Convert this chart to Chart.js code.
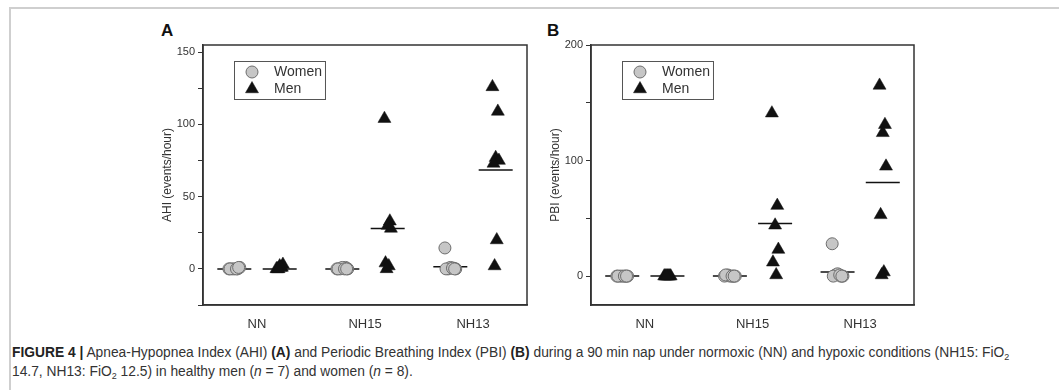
<!DOCTYPE html>
<html>
<head>
<meta charset="utf-8">
<script src="https://cdn.jsdelivr.net/npm/chart.js@4.4.1/dist/chart.umd.min.js"></script>
<style>
  html, body { margin: 0; padding: 0; background: #fff; }
  body { width: 1059px; height: 390px; position: relative; overflow: hidden; font-family: "Liberation Sans", Arial, sans-serif; }
  .frame { position: absolute; left: 9px; top: 7px; width: 1060px; height: 400px; border-top: 2px solid #cfcfcf; border-left: 2px solid #cfcfcf; }
  .panel { position: absolute; top: 20px; width: 400px; height: 320px; }
  .letter { position: absolute; font-weight: bold; font-size: 17px; color: #111; }
  .caption { position: absolute; left: 12px; top: 343px; width: 1045px; font-family: "Liberation Sans Narrow", "Arial Narrow", sans-serif; font-size: 13.8px; line-height: 19px; color: #333; white-space: nowrap; }
  .caption b { color: #222; }
  .caption sub { font-size: 9px; line-height: 0; vertical-align: -3px; }
</style>
</head>
<body>
<div class="frame"></div>
<div class="letter" style="left:161px; top:21px;">A</div>
<div class="letter" style="left:547px; top:21px;">B</div>
<div class="panel" style="left:150px;"><canvas id="chartA"></canvas></div>
<div class="panel" style="left:540px;"><canvas id="chartB"></canvas></div>
<div class="caption"><b>FIGURE 4 |</b> Apnea-Hypopnea Index (AHI) <b>(A)</b> and Periodic Breathing Index (PBI) <b>(B)</b> during a 90 min nap under normoxic (NN) and hypoxic conditions (NH15: FiO<sub>2</sub><br>14.7, NH13: FiO<sub>2</sub> 12.5) in healthy men (<i>n</i> = 7) and women (<i>n</i> = 8).</div>

<script>
// ---------- data ----------
const categories = ["NN", "NH15", "NH13"];

// Panel A: AHI (events/hour), one inner array per condition
const ahiWomen = [
  [0, 0, 0, 1, 0, 0, 0, 1],
  [0, 1, 0, 0, 1, 0, 0, 0],
  [14.5, 0.5, 0, 0, 1, 0, 0.5, 0]
];
const ahiMen = [
  [0, 1, 2, 3, 0, 1, 0],
  [104, 33, 30, 28, 4, 2, 0],
  [126, 109, 77, 75, 73, 20, 2]
];
const ahiWomenLine = [0, 0, 1.5];
const ahiMenLine = [0, 28, 68.5];
const ahiTicks = [-25, 0, 25, 50, 75, 100, 125, 150];
const ahiLabels = [0, 50, 100, 150];

// Panel B: PBI (events/hour)
const pbiWomen = [
  [0, 0, 0, 0, 0, 0, 0, 0],
  [0, 0, 1, 0, 0, 1, 0, 0],
  [28, 0, 1, 0, 2, 0, 1, 0]
];
const pbiMen = [
  [0, 0, 0, 0, 0, 0, 0],
  [141, 61, 44, 23, 12, 1],
  [165, 131, 124, 95, 53, 3.5, 1]
];
const pbiWomenLine = [0, 0, 3.5];
const pbiMenLine = [0, 45.5, 81];
const pbiTicks = [0, 50, 100, 150, 200];
const pbiLabels = [0, 100, 200];

// ---------- drawing ----------
const FONT = "'Liberation Sans', Arial, sans-serif";
const TEXT = "#333";
const GROUP_OFFSET = 0.21;            // women left / men right of category centre
const womenJitter = [-0.05, 0.03, -0.02, 0.05, 0, -0.04, 0.02, 0.04];
const menJitter = [-0.03, 0.02, 0, 0.03, -0.02, 0.01, -0.01];

const circleStyle = { pointStyle: "circle", pointRadius: 6, backgroundColor: "#c6c6c6", borderColor: "#6d6d6d", borderWidth: 1 };
const triStyle = { pointStyle: "triangle", pointRadius: 7.5, backgroundColor: "#111", borderColor: "#111", borderWidth: 0.5 };

function toPoints(groups, shift, jitter) {
  const pts = [];
  groups.forEach((vals, i) => {
    vals.forEach((v, k) => pts.push({ x: i + 0.5 + shift + jitter[k % jitter.length], y: v }));
  });
  return pts;
}

function linePoints(vals, shift) {
  return vals.map((v, i) => ({ x: i + 0.5 + shift, y: v }));
}

const framePlugin = {
  id: "frameAndLegend",
  afterDraw(chart) {
    const ctx = chart.ctx;
    const a = chart.chartArea;
    ctx.save();
    ctx.strokeStyle = "#333";
    ctx.lineWidth = 1.5;
    ctx.strokeRect(a.left, a.top, a.right - a.left, a.bottom - a.top);

    // legend box inside the plot
    const bx = a.left + 31, by = a.top + 16;
    ctx.font = "14px " + FONT;
    const w = 40 + ctx.measureText("Women").width + 3;
    const h = 38;
    ctx.lineWidth = 1;
    ctx.strokeStyle = "#555";
    ctx.strokeRect(bx + 0.5, by + 0.5, w, h);
    const items = [
      { label: "Women", style: circleStyle, y: by + 11 },
      { label: "Men", style: triStyle, y: by + 28 }
    ];
    items.forEach(it => {
      ctx.fillStyle = it.style.backgroundColor;
      ctx.strokeStyle = it.style.borderColor;
      ctx.lineWidth = it.style.borderWidth;
      Chart.helpers.drawPoint(ctx, { pointStyle: it.style.pointStyle, radius: it.style.pointRadius, borderWidth: it.style.borderWidth }, bx + 18, it.y);
      ctx.fillStyle = TEXT;
      ctx.textBaseline = "middle";
      ctx.fillText(it.label, bx + 40, it.y);
    });
    ctx.restore();
  }
};

function makeChart(id, women, men, womenLine, menLine, yMin, yMax, yTicks, yLabels, yTitle, axisW, padRight, titlePad) {
  new Chart(id, {
    type: "scatter",
    data: {
      datasets: [
        Object.assign({ label: "Women", data: toPoints(women, -GROUP_OFFSET, womenJitter) }, circleStyle),
        Object.assign({ label: "Men", data: toPoints(men, GROUP_OFFSET, menJitter) }, triStyle),
        { label: "women line", data: linePoints(womenLine, -GROUP_OFFSET), pointStyle: "line", pointRadius: 17, borderColor: "#111", borderWidth: 1.5, backgroundColor: "#111" },
        { label: "men line", data: linePoints(menLine, GROUP_OFFSET), pointStyle: "line", pointRadius: 17, borderColor: "#111", borderWidth: 1.5, backgroundColor: "#111" }
      ]
    },
    options: {
      responsive: true,
      maintainAspectRatio: false,
      animation: false,
      layout: { padding: { left: 0, right: padRight, top: 25, bottom: 0 } },
      plugins: { legend: { display: false }, tooltip: { enabled: false } },
      elements: { point: { hoverRadius: 6 } },
      scales: {
        x: {
          type: "linear",
          min: 0,
          max: 3,
          afterBuildTicks: s => { s.ticks = categories.map((c, i) => ({ value: i + 0.5 })); },
          ticks: { callback: v => categories[Math.round(v - 0.5)], color: TEXT, font: { family: FONT, size: 13 }, padding: 12, autoSkip: false, maxRotation: 0 },
          grid: { display: false, drawTicks: false },
          border: { display: true, color: "#333", width: 1.5 },
          afterFit: s => { s.height = 35; }
        },
        y: {
          min: yMin,
          max: yMax,
          afterBuildTicks: s => { s.ticks = yTicks.map(v => ({ value: v })); },
          ticks: { callback: v => yLabels.includes(v) ? v : "", color: TEXT, font: { family: FONT, size: 11 }, padding: 3, autoSkip: false },
          grid: { drawOnChartArea: false, tickLength: 5, color: "#333", tickWidth: 1 },
          border: { display: true, color: "#333", width: 1.5 },
          title: { display: true, text: yTitle, color: TEXT, font: { family: FONT, size: 12 }, padding: { top: titlePad, bottom: 0 } },
          afterFit: s => { s.width = axisW; }
        }
      }
    },
    plugins: [framePlugin]
  });
}

makeChart("chartA", ahiWomen, ahiMen, ahiWomenLine, ahiMenLine, -25, 155, ahiTicks, ahiLabels, "AHI (events/hour)", 53, 23, 10);
makeChart("chartB", pbiWomen, pbiMen, pbiWomenLine, pbiMenLine, -25, 200, pbiTicks, pbiLabels, "PBI (events/hour)", 51, 26, 8);
</script>
</body>
</html>
